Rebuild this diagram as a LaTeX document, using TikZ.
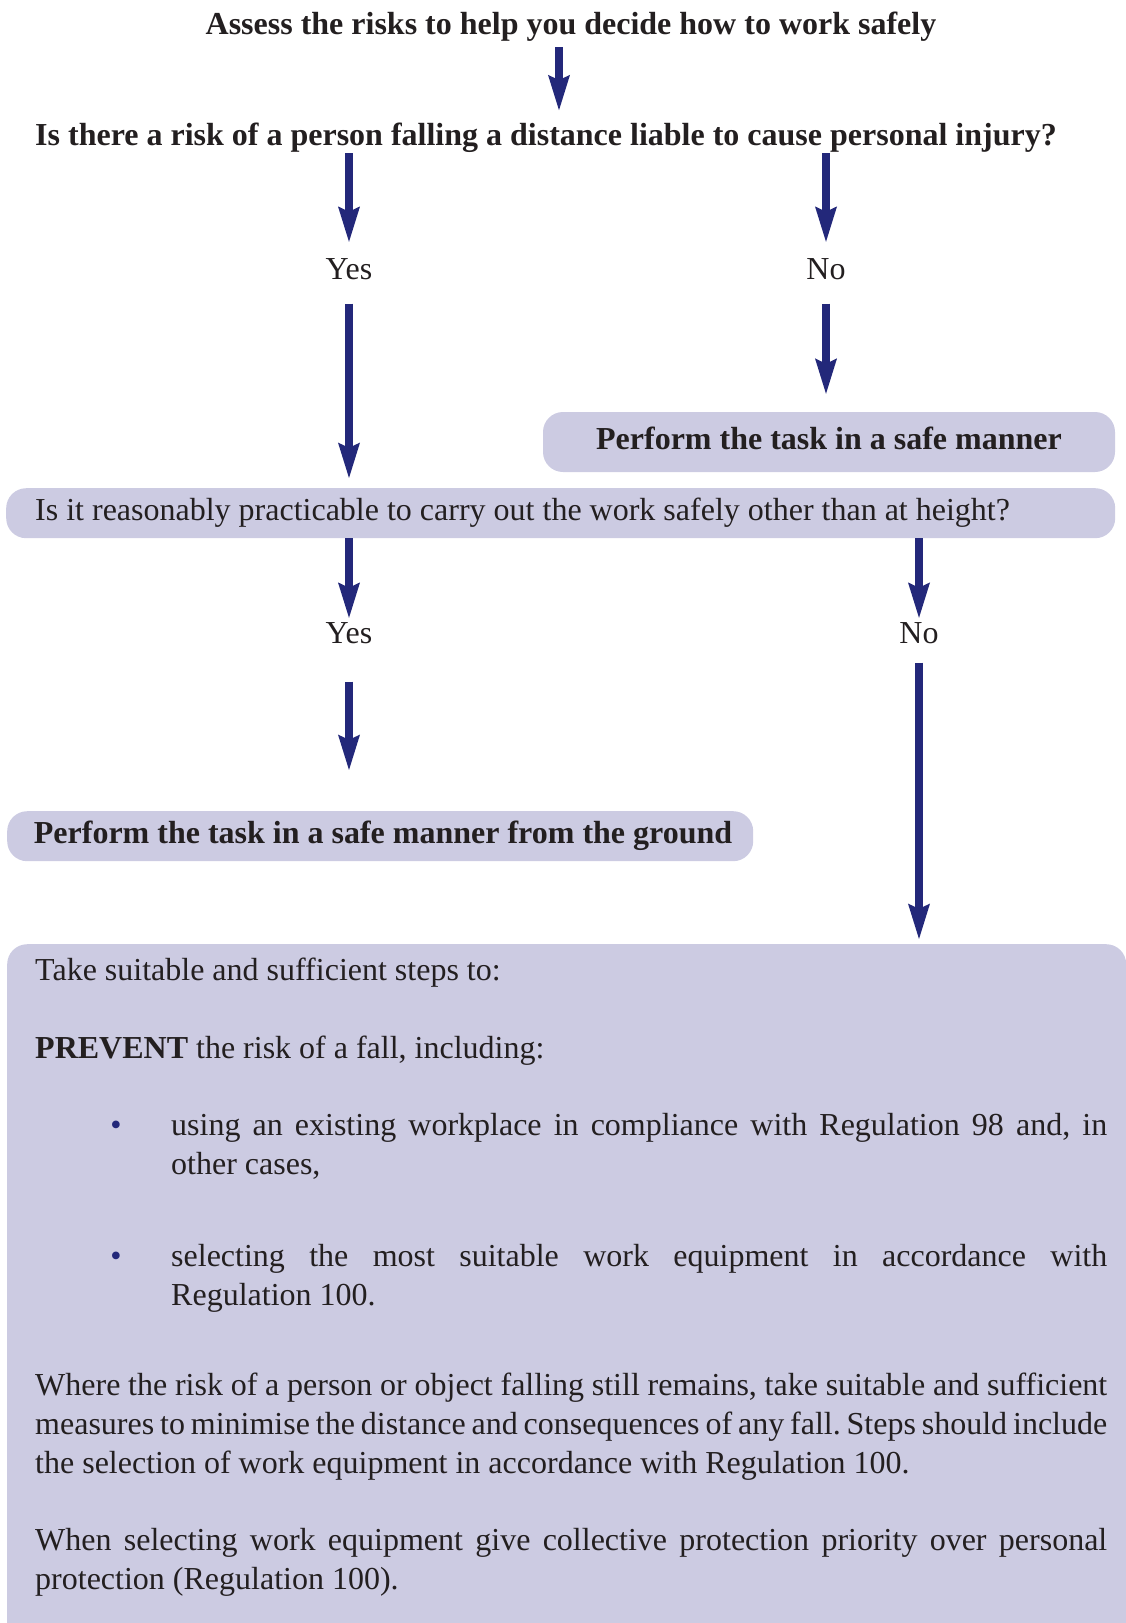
\documentclass[tikz,border=0pt]{standalone}
\usepackage{fontspec}
\setmainfont{Liberation Serif}
\usetikzlibrary{arrows.meta}
\definecolor{navy}{HTML}{23287A}
\definecolor{lav}{HTML}{CCCBE2}
\definecolor{ink}{HTML}{231F20}
\tikzset{
  box/.style={fill=lav, rounded corners=20pt, inner sep=0pt, text height=22pt, text depth=7pt},
  arr/.style={navy, line width=7.5pt, -{Stealth[length=35pt,width=20pt,inset=4pt]}},
  para/.style={anchor=base west, inner sep=0pt, align=justify},
}
\begin{document}
\begin{tikzpicture}[x=1pt,y=-1pt,text=ink,inner sep=0pt]
  \fontsize{32}{39}\selectfont\frenchspacing
  \hyphenpenalty=10000 \tolerance=9999
  \useasboundingbox (0,0) rectangle (1126,1623);
  \node[anchor=base,font=\bfseries] (title) at (571,34) {Assess the risks to help you decide how to work safely};
  \node[anchor=base west,font=\bfseries] (q1) at (35,145) {Is there a risk of a person falling a distance liable to cause personal injury?};
  \node[anchor=base] (yes1) at (349,279) {Yes};
  \node[anchor=base] (no1) at (826,279) {No};
  \node[box,font=\bfseries,minimum width=572pt,minimum height=60pt] (safe) at (829,442) {Perform the task in a safe manner};
  \node[box,anchor=north west,text width=1051pt,inner xsep=29pt,minimum height=50pt,align=flush left] (q2) at (6,488) {Is it reasonably practicable to carry out the work safely other than at height?};
  \node[anchor=base] (yes2) at (349,643) {Yes};
  \node[anchor=base] (no2) at (919,643) {No};
  \node[box,anchor=north west,text width=704pt,inner xsep=21pt,minimum height=50pt,align=flush right,font=\bfseries] (ground) at (7,811) {Perform the task in a safe manner from the ground};
  \node[box,anchor=north west,minimum width=1119pt,minimum height=720pt] (steps) at (7,944) {};
  \node[para,text width=1072pt] (take) at (35,980) {Take suitable and sufficient steps to:};
  \node[para,text width=1072pt] (prevent) at (35,1058) {\textbf{PREVENT} the risk of a fall, including:};
  \node[anchor=base,text=navy] (dot1) at (116,1135) {\textbullet};
  \node[para,text width=936pt] (item1) at (171,1135) {using an existing workplace in compliance with Regulation 98 and, in other cases,};
  \node[anchor=base,text=navy] (dot2) at (116,1266) {\textbullet};
  \node[para,text width=936pt] (item2) at (171,1266) {selecting the most suitable work equipment in accordance with\linebreak Regulation 100.};
  \node[para,text width=1072pt] (minimise) at (35,1395) {Where the risk of a person or object falling still remains, take suitable and sufficient measures to minimise the distance and consequences of any fall. Steps should include the selection of work equipment in accordance with Regulation 100.};
  \node[para,text width=1072pt] (priority) at (35,1550) {When selecting work equipment give collective protection priority over personal protection (Regulation 100).};
  \begin{scope}[arr]
    \draw[shorten <=6pt,shorten >=11pt] ([xshift=-12pt]title.south) -- ([xshift=-12pt]title.south |- q1.north);
    \draw[shorten <=1pt,shorten >=15pt] (q1.south -| yes1) -- (yes1.north);
    \draw[shorten <=1pt,shorten >=15pt] (q1.south -| no1) -- (no1.north);
    \draw[shorten <=24pt,shorten >=9pt] (yes1.south) -- (yes1.south |- q2.north);
    \draw[shorten <=24pt,shorten >=17pt] (no1.south) -- (no1.south |- safe.north);
    \draw[shorten >=3pt] (q2.south -| yes2) -- (yes2.north);
    \draw[shorten >=3pt] (q2.south -| no2) -- (no2.north);
    \draw[shorten <=38pt,shorten >=40pt] (yes2.south) -- (yes2.south |- ground.north);
    \draw[shorten <=19pt,shorten >=4pt] (no2.south) -- (no2.south |- steps.north);
  \end{scope}
\end{tikzpicture}
\end{document}
